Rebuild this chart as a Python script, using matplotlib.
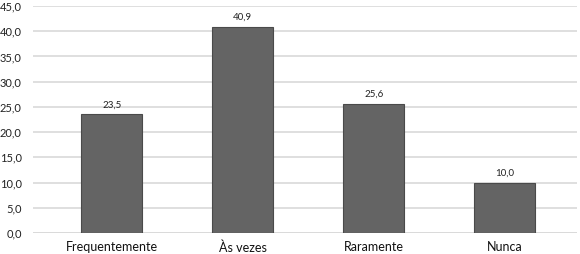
import matplotlib
matplotlib.use("Agg")
import matplotlib.pyplot as plt

categorias = ["Frequentemente", "Às vezes", "Raramente", "Nunca"]
valores = [23.5, 40.9, 25.6, 10.0]
yticks = [0, 5, 10, 15, 20, 25, 30, 35, 40, 45]

plt.rcParams['font.family'] = ['Lato', 'DejaVu Sans']

fig = plt.figure(figsize=(5.8, 2.54), dpi=100)
ax = fig.add_axes([33 / 580, 21 / 254, 544 / 580, 227 / 254])

x = range(len(categorias))
ax.bar(x, valores, width=0.465, color="#646464", edgecolor="#4a4a4a", linewidth=0.8, zorder=3)

for i, v in zip(x, valores):
    ax.text(i, v + 1.0, f"{v:.1f}".replace(".", ","), ha="center", va="bottom", fontsize=7, color="#222222")

ax.set_ylim(0, 45)
ax.set_xlim(-0.6, 3.55)
ax.set_yticks(yticks)
ax.set_yticklabels([f"{t:.1f}".replace(".", ",") for t in yticks], fontsize=8, color="#222222")
ax.set_xticks(list(x))
ax.set_xticklabels(categorias, fontsize=9, color="#111111")
ax.yaxis.grid(True, color="#d9d9d9", linewidth=1.2, zorder=0)
ax.tick_params(length=0)
ax.tick_params(axis="x", pad=6)
ax.tick_params(axis="y", pad=8)
for s in ax.spines.values():
    s.set_visible(False)
ax.axhline(0, color="#d9d9d9", linewidth=1.2, zorder=1)

fig.savefig("out.png", dpi=100)
